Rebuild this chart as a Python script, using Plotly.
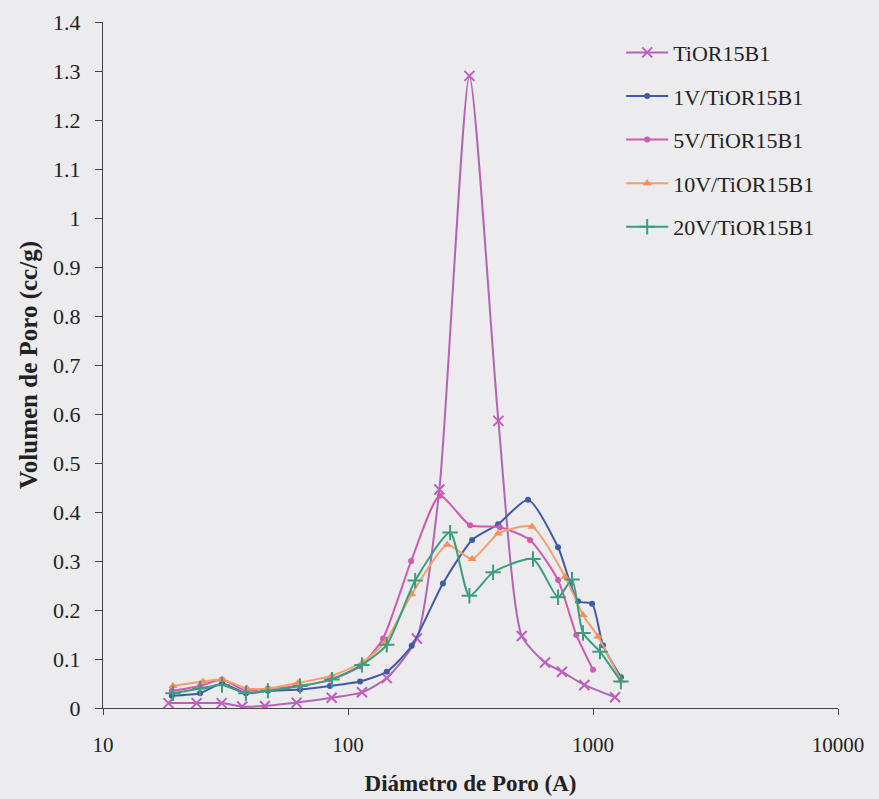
import plotly.graph_objects as go

# Pore size distribution (BJH) for the support and the vanadium-loaded samples
tior_d = [18.5, 24.1, 30.5, 37.0, 45.8, 61.7, 85.8, 114, 144, 191, 236, 313, 411, 512, 637, 747, 922, 1230]
tior_v = [0.010, 0.010, 0.010, 0.003, 0.004, 0.011, 0.021, 0.032, 0.061, 0.142, 0.446, 1.29, 0.586, 0.147, 0.093, 0.074, 0.047, 0.022]

v1_d = [19.1, 24.9, 30.6, 38.3, 47.1, 63.7, 84.4, 112, 144, 182, 244, 321, 410, 543, 720, 868, 991, 1098, 1300]
v1_v = [0.025, 0.030, 0.050, 0.030, 0.035, 0.038, 0.045, 0.054, 0.074, 0.127, 0.254, 0.343, 0.375, 0.425, 0.328, 0.218, 0.213, 0.128, 0.063]

v5_d = [19.1, 24.9, 30.6, 38.3, 47.1, 63.7, 84.4, 112, 139, 181, 237, 315, 417, 553, 720, 855, 1000]
v5_v = [0.035, 0.045, 0.058, 0.035, 0.040, 0.045, 0.058, 0.085, 0.142, 0.300, 0.433, 0.373, 0.369, 0.343, 0.261, 0.149, 0.078]

v10_d = [19.3, 25.6, 30.6, 38.7, 47.1, 62.5, 86.0, 115, 142, 182, 254, 321, 410, 564, 769, 910, 1048, 1300]
v10_v = [0.045, 0.054, 0.058, 0.040, 0.040, 0.051, 0.066, 0.094, 0.135, 0.232, 0.333, 0.304, 0.356, 0.370, 0.268, 0.190, 0.146, 0.056]

v20_d = [19.3, 24.9, 30.6, 38.3, 47.1, 63.7, 86.0, 114, 144, 188, 261, 313, 391, 569, 720, 821, 910, 1068, 1300]
v20_v = [0.030, 0.040, 0.047, 0.030, 0.035, 0.045, 0.058, 0.088, 0.129, 0.260, 0.358, 0.229, 0.277, 0.304, 0.226, 0.262, 0.153, 0.115, 0.054]

series = [
    ("TiOR15B1", tior_d, tior_v, "#B264B4", "#C35CC0", "x-thin-open", 10),
    ("1V/TiOR15B1", v1_d, v1_v, "#3F5BA6", "#3F5BA6", "circle", 6),
    ("5V/TiOR15B1", v5_d, v5_v, "#D05AAE", "#D05AAE", "circle", 6),
    ("10V/TiOR15B1", v10_d, v10_v, "#F2A06E", "#F29058", "triangle-up", 8),
    ("20V/TiOR15B1", v20_d, v20_v, "#3A9E7E", "#3A9E7E", "cross-thin-open", 11),
]

serif = "Liberation Serif"
bg = "#ECEBEE"

fig = go.Figure()
for i, (name, d, v, lc, mc, sym, ms) in enumerate(series):
    open_sym = sym.endswith("open")
    fig.add_trace(go.Scatter(
        x=d, y=v, name=name, mode="lines+markers",
        legendgroup=f"g{i}",
        line=dict(color=lc, width=2, shape="spline", smoothing=0.6),
        marker=dict(symbol=sym, size=ms, color=mc,
                    line=dict(color=mc, width=2 if open_sym else 0)),
    ))

fig.update_layout(
    width=879, height=799,
    margin=dict(l=103, r=41, t=22, b=91),
    paper_bgcolor=bg, plot_bgcolor=bg,
    font=dict(family=serif, size=20, color="#222"),
    showlegend=True,
    legend=dict(x=0.705, y=0.986, xanchor="left", yanchor="top",
                bgcolor="rgba(0,0,0,0)", font=dict(size=22, family=serif),
                tracegroupgap=12, itemwidth=42),
    xaxis=dict(
        type="log", range=[1, 4], automargin=False,
        tickvals=[10, 100, 1000, 10000], ticktext=["10", "100", "1000", "10000"],
        showline=True, linecolor="#444", linewidth=1.2, ticks="outside",
        ticklen=6, tickcolor="#444", showgrid=False, zeroline=False,
        ticklabelstandoff=12,
        tickfont=dict(size=21, family=serif),
        title=dict(text="<b>Diámetro de Poro (A)</b>", font=dict(size=23, family=serif),
                   standoff=18),
    ),
    yaxis=dict(
        range=[0, 1.4], dtick=0.1, tick0=0, automargin=False,
        showline=True, linecolor="#444", linewidth=1.2, ticks="outside",
        ticklen=7, tickcolor="#444", showgrid=False, zeroline=False,
        ticklabelstandoff=10,
        tickfont=dict(size=22, family=serif),
        title=dict(text="<b>Volumen de Poro (cc/g)</b>", font=dict(size=25, family=serif),
                   standoff=8),
    ),
)

fig.write_html("out.html")
